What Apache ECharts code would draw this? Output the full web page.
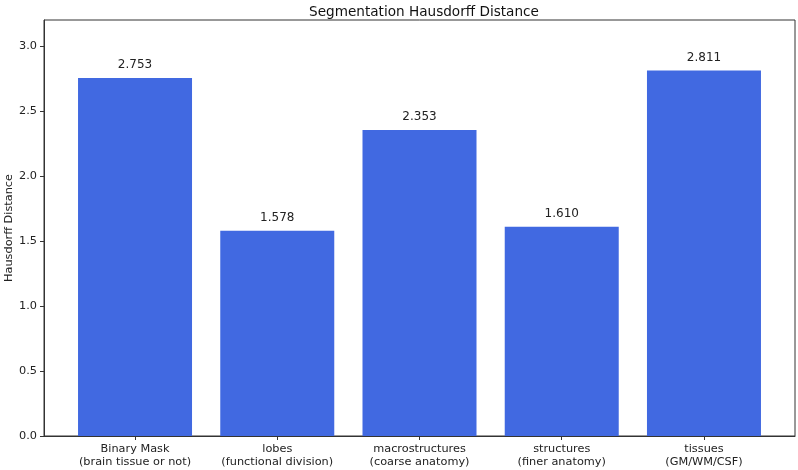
<!DOCTYPE html>
<html>
<head>
<meta charset="utf-8">
<script src="https://cdn.jsdelivr.net/npm/echarts@6/dist/echarts.min.js"></script>
<style>
  html, body { margin: 0; padding: 0; background: #fff; }
  #chart { width: 798px; height: 470px; }
</style>
</head>
<body>
<div id="chart"></div>
<script>
// data
const categories = [
  'Binary Mask\n(brain tissue or not)',
  'lobes\n(functional division)',
  'macrostructures\n(coarse anatomy)',
  'structures\n(finer anatomy)',
  'tissues\n(GM/WM/CSF)'
]
const hausdorff = [2.753, 1.578, 2.353, 1.610, 2.811]
const yTicks = [0, 0.5, 1.0, 1.5, 2.0, 2.5, 3.0]

const font = 'DejaVu Sans'
const positions = categories.map((c, i) => i)

const chart = echarts.init(document.getElementById('chart'))
chart.setOption({
  animation: false,
  textStyle: { fontFamily: font },
  title: {
    text: 'Segmentation Hausdorff Distance',
    left: 419, top: 0, textAlign: 'center',
    textStyle: { fontFamily: font, fontSize: 13.6, fontWeight: 'normal', color: '#111' }
  },
  // y axis title, placed by hand since the axis name kept getting pushed off the edge
  graphic: [{
    type: 'text',
    x: 9, y: 228,
    rotation: Math.PI / 2,
    style: {
      text: 'Hausdorff Distance',
      font: '11.3px "DejaVu Sans"',
      fill: '#222',
      textAlign: 'center',
      textVerticalAlign: 'middle'
    }
  }],
  grid: {
    left: 44, top: 20, width: 751, height: 416,
    containLabel: false,
    outerBoundsMode: 'none',
    show: true, borderColor: '#333', borderWidth: 1
  },
  xAxis: {
    type: 'value',
    min: -0.64, max: 4.64,
    splitLine: { show: false },
    axisLine: { show: true, onZero: false, lineStyle: { color: '#333' } },
    axisTick: {
      show: true, length: 4, inside: false,
      customValues: positions,
      lineStyle: { color: '#333' }
    },
    axisLabel: {
      customValues: positions,
      formatter: v => categories[Math.round(v)] || '',
      fontFamily: font, fontSize: 11.3, color: '#222',
      lineHeight: 13, margin: 7
    }
  },
  yAxis: {
    type: 'value',
    min: 0, max: 3.2,
    splitLine: { show: false },
    axisLine: { show: true, onZero: false, lineStyle: { color: '#333' } },
    axisTick: {
      show: true, length: 4,
      customValues: yTicks,
      lineStyle: { color: '#333' }
    },
    axisLabel: {
      customValues: yTicks,
      formatter: v => v.toFixed(1),
      fontFamily: font, fontSize: 11.3, color: '#222', margin: 7
    }
  },
  series: [{
    type: 'bar',
    barWidth: 114,
    data: hausdorff.map((v, i) => [i, v]),
    itemStyle: { color: '#4169E1' },
    label: {
      show: true,
      position: 'top',
      distance: 7,
      formatter: p => p.value[1].toFixed(3),
      fontFamily: font, fontSize: 12, color: '#222'
    }
  }]
})
</script>
</body>
</html>
